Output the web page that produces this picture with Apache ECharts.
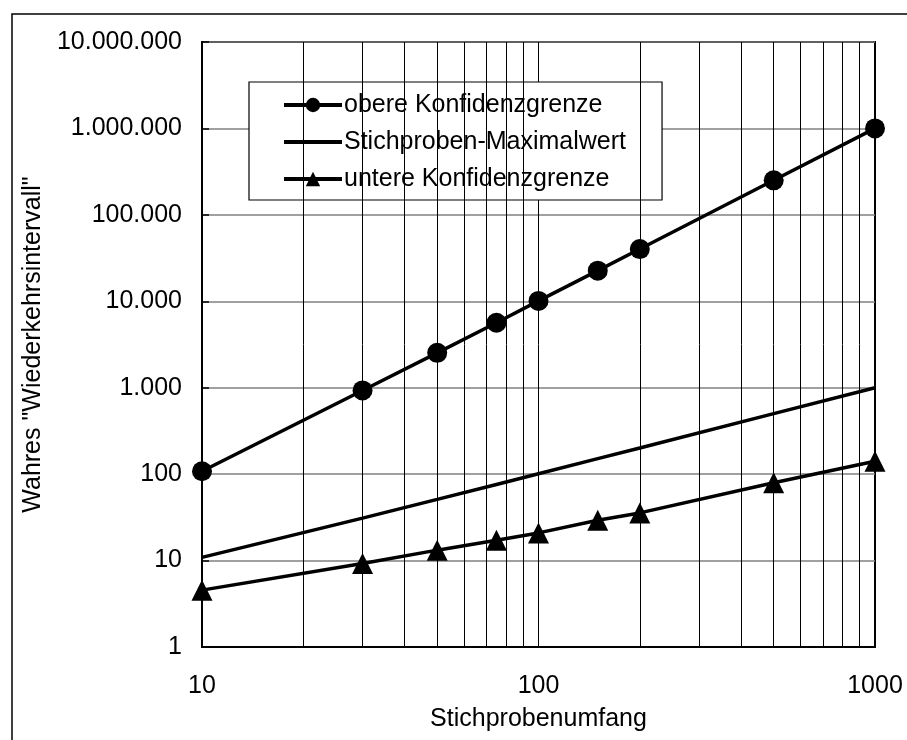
<!DOCTYPE html>
<html>
<head>
<meta charset="utf-8">
<script src="https://cdn.jsdelivr.net/npm/echarts@6/dist/echarts.min.js"></script>
<style>
  html, body { margin: 0; padding: 0; background: #fff; }
  #chart { width: 907px; height: 740px; }
</style>
</head>
<body>
<div id="chart"></div>
<script>
var sampleSizes = [10, 30, 50, 75, 100, 150, 200, 500, 1000];
var upperLimit = [108, 930, 2530, 5640, 10100, 22600, 40200, 251000, 1000000];
var sampleMax = [10.9, 31, 51, 76, 101, 151, 201, 501, 1000];
var lowerLimit = [4.55, 9.25, 13.2, 17.2, 20.9, 29.3, 35.6, 79.4, 141];
var minorGridX = [20, 30, 40, 50, 60, 70, 80, 90, 200, 300, 400, 500, 600, 700, 800, 900];
var seriesNames = ['obere Konfidenzgrenze', 'Stichproben-Maximalwert', 'untere Konfidenzgrenze'];

function pairs(ys) {
  return sampleSizes.map(function(x, i) { return [x, ys[i]]; });
}

function germanNumber(v) {
  return String(Math.round(v)).replace(/\B(?=(\d{3})+(?!\d))/g, '.');
}

var font = "'Liberation Sans', Arial, sans-serif";
var chart = echarts.init(document.getElementById('chart'));

chart.setOption({
  animation: false,
  backgroundColor: '#fff',
  textStyle: { fontFamily: font, color: '#000' },
  graphic: [{
    type: 'rect',
    shape: { x: 12, y: 14, width: 920, height: 760 },
    style: { fill: null, stroke: '#000', lineWidth: 1.5 },
    silent: true
  }],
  grid: {
    left: 202, top: 42, right: 32, bottom: 93,
    show: true, borderColor: '#000', borderWidth: 2, backgroundColor: 'transparent'
  },
  legend: {
    orient: 'vertical',
    left: 249, top: 82,
    padding: [10, 36, 8, 33],
    backgroundColor: '#fff',
    borderColor: '#000', borderWidth: 1.2,
    itemWidth: 58, itemHeight: 18, itemGap: 11,
    lineStyle: { width: 4, color: '#000' },
    textStyle: { fontFamily: font, fontSize: 25, color: '#000', lineHeight: 26, padding: [0, 0, 0, -3] },
    data: [
      seriesNames[0],
      { name: seriesNames[1], itemStyle: { color: 'rgba(0,0,0,0)', opacity: 0 } },
      seriesNames[2]
    ]
  },
  xAxis: {
    type: 'log', logBase: 10, min: 10, max: 1000, splitNumber: 2,
    name: 'Stichprobenumfang', nameLocation: 'middle', nameGap: 60,
    nameTextStyle: { fontFamily: font, fontSize: 25, color: '#000' },
    axisLine: { lineStyle: { color: '#000', width: 2 } },
    axisTick: { show: false },
    axisLabel: { fontFamily: font, fontSize: 25, color: '#000', margin: 27, formatter: function(v) { return String(Math.round(v)); } },
    splitLine: { show: true, lineStyle: { color: '#000', width: 1 } }
  },
  yAxis: {
    type: 'log', logBase: 10, min: 1, max: 10000000, splitNumber: 7,
    name: 'Wahres "Wiederkehrsintervall"', nameLocation: 'middle', nameGap: 152, nameRotate: 90,
    nameTextStyle: { fontFamily: font, fontSize: 25, color: '#000' },
    axisLine: { lineStyle: { color: '#000', width: 2 } },
    axisTick: { show: true, inside: true, length: 7, lineStyle: { color: '#000', width: 1.5 } },
    axisLabel: { fontFamily: font, fontSize: 25, color: '#000', margin: 20, formatter: germanNumber },
    splitLine: { show: true, lineStyle: { color: '#808080', width: 1.5 } }
  },
  series: [
    {
      name: 'minor grid', type: 'line', data: [], silent: true,
      markLine: {
        silent: true, symbol: 'none', label: { show: false },
        lineStyle: { color: '#000', width: 1, type: 'solid' },
        data: minorGridX.map(function(x) { return { xAxis: x }; })
      }
    },
    {
      name: seriesNames[0], type: 'line', data: pairs(upperLimit),
      symbol: 'circle', symbolSize: 20, z: 5,
      lineStyle: { color: '#000', width: 3.5 }, itemStyle: { color: '#000' }
    },
    {
      name: seriesNames[1], type: 'line', data: pairs(sampleMax),
      symbol: 'none', z: 5,
      lineStyle: { color: '#000', width: 3.5 }, itemStyle: { color: '#000' }
    },
    {
      name: seriesNames[2], type: 'line', data: pairs(lowerLimit),
      symbol: 'triangle', symbolSize: 21, z: 5,
      lineStyle: { color: '#000', width: 3.5 }, itemStyle: { color: '#000' }
    }
  ]
});
</script>
</body>
</html>
